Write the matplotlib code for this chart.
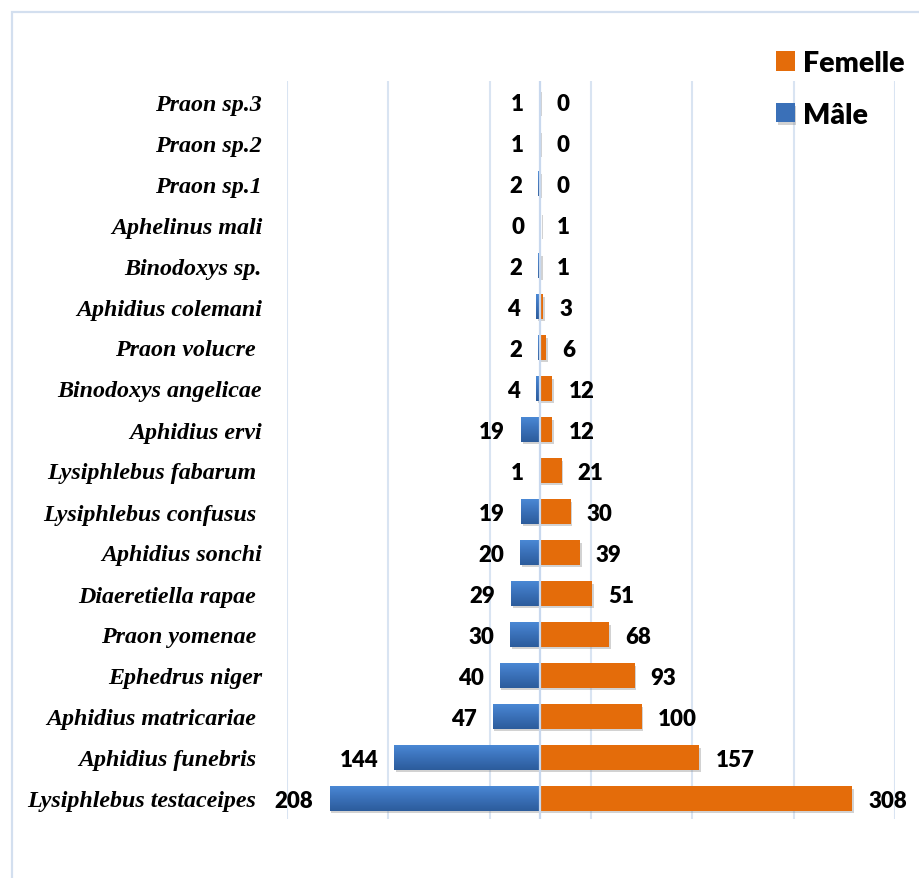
import numpy as np
import matplotlib
matplotlib.use("Agg")
import matplotlib.pyplot as plt
from matplotlib import patheffects
from matplotlib.patches import Rectangle
from matplotlib.colors import LinearSegmentedColormap

# Species (top to bottom) and counts per sex
species = [
    "Praon sp.3", "Praon sp.2", "Praon sp.1", "Aphelinus mali", "Binodoxys sp.",
    "Aphidius colemani", "Praon volucre ", "Binodoxys angelicae", "Aphidius ervi",
    "Lysiphlebus fabarum ", "Lysiphlebus confusus ", "Aphidius sonchi",
    "Diaeretiella rapae ", "Praon yomenae ", "Ephedrus niger",
    "Aphidius matricariae ", "Aphidius funebris ", "Lysiphlebus testaceipes ",
]
male = [1, 1, 2, 0, 2, 4, 2, 4, 19, 1, 19, 20, 29, 30, 40, 47, 144, 208]
female = [0, 0, 0, 1, 1, 3, 6, 12, 12, 21, 30, 39, 51, 68, 93, 100, 157, 308]
grid_ticks = [-250, -150, -50, 50, 150, 250, 350]

BLUE = "#3a70b8"
BLUE_TOP = "#4a88d4"
BLUE_BOT = "#2c5c9c"
ORANGE = "#e46c0a"
GRID = "#d9e4f2"

W, H = 919, 879
fig = plt.figure(figsize=(W / 100, H / 100), dpi=100)
ax = fig.add_axes([287 / W, 1 - 820 / H, (895 - 287) / W, (820 - 82) / H])

y = np.arange(len(species))
male_neg = [-v for v in male]

shadow = [patheffects.SimplePatchShadow(offset=(1.2, -2.0), shadow_rgbFace="#7f7f7f", alpha=0.35),
          patheffects.Normal()]

bars_m = ax.barh(y, male_neg, height=0.59, color=BLUE, zorder=3, label="Mâle")
bars_f = ax.barh(y, female, height=0.59, color=ORANGE, zorder=3, label="Femelle")
for b in list(bars_m) + list(bars_f):
    if b.get_width() != 0:
        b.set_path_effects(shadow)

# vertical gradient on the male bars
cmap = LinearSegmentedColormap.from_list("bl", [BLUE_TOP, BLUE, BLUE_BOT])
grad = np.linspace(0, 1, 64).reshape(-1, 1)
for b in bars_m:
    if b.get_width() == 0:
        continue
    x0, y0 = b.get_x(), b.get_y()
    w, h = b.get_width(), b.get_height()
    im = ax.imshow(grad, cmap=cmap, aspect="auto", zorder=3.5,
                   extent=[x0, x0 + w, y0 + h, y0], interpolation="bilinear")
    im.set_clip_path(b)

ax.set_xlim(-250, 350)
ax.set_ylim(len(species) - 0.5, -0.5)

ax.set_xticks(grid_ticks)
ax.tick_params(axis="x", length=0, labelbottom=False)
ax.grid(axis="x", color=GRID, lw=1.5, zorder=0)
ax.set_axisbelow(True)
ax.axvline(0, color="#c8d8ee", lw=1.6, zorder=5)

for s in ax.spines.values():
    s.set_visible(False)

ax.set_yticks(y)
ax.set_yticklabels(species, fontsize=17.3, family="Liberation Serif",
                   fontweight="bold", fontstyle="italic")
ax.tick_params(axis="y", length=0, pad=18)

val_font = dict(family="Lato", fontweight="heavy", fontsize=16, color="black")
for yi, m, f in zip(y, male, female):
    ax.annotate(str(m), xy=(-m, yi), xytext=(-11.5, -1.5), textcoords="offset points",
                ha="right", va="center", **val_font, zorder=6)
    ax.annotate(str(f), xy=(f, yi), xytext=(11.5, -1.5), textcoords="offset points",
                ha="left", va="center", **val_font, zorder=6)

leg = fig.legend(handles=[bars_f, bars_m], labels=["Femelle", "Mâle"],
                 loc="upper left", bbox_to_anchor=(776 / W, 1 - 51 / H),
                 frameon=False, borderpad=0, borderaxespad=0,
                 handlelength=0.65, handleheight=0.65, handletextpad=0.3,
                 labelspacing=0.9, prop=dict(family="Lato", weight="heavy", size=20.5))

# chart border
fig.add_artist(Rectangle((12 / W, -0.1), 1.2, 1 - 13 / H + 0.1, transform=fig.transFigure,
                         fill=False, edgecolor="#d3dfef", lw=1.6))

fig.savefig("out.png", dpi=100, facecolor="white")
